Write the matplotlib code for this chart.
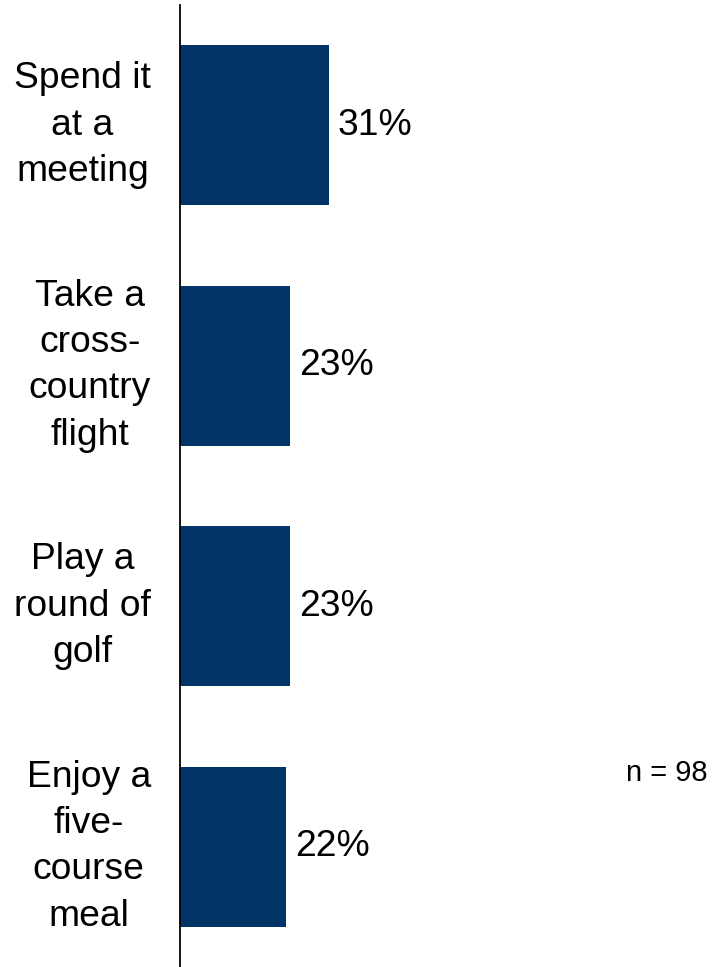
import matplotlib
matplotlib.use("Agg")
import matplotlib.pyplot as plt

plt.rcParams["font.family"] = ["Liberation Sans", "DejaVu Sans"]

categories = [
    "Spend it\nat a\nmeeting",
    "Take a\ncross-\ncountry\nflight",
    "Play a\nround of\ngolf",
    "Enjoy a\nfive-\ncourse\nmeal",
]
values = [31, 23, 23, 22]
sample_note = "n = 98"

W, H = 712, 967
fig = plt.figure(figsize=(W / 100, H / 100), dpi=100)
ax = fig.add_axes([180 / W, 0.0, 1 - 180 / W, 962 / H])

positions = list(range(len(categories)))
bars = ax.barh(positions, values, height=0.665, color="#003366", edgecolor="none")

ax.set_xlim(0, (W - 180) / 4.8)
ax.set_ylim(len(categories) - 0.5, -0.5)

for bar, v in zip(bars, values):
    ax.annotate(f"{v}%", xy=(bar.get_width(), bar.get_y() + bar.get_height() / 2),
                xytext=(6.5, 0), textcoords="offset points",
                ha="left", va="center", fontsize=26.8, color="black")

ax.set_yticks(positions)
ax.set_yticklabels(categories, fontsize=26.8, ha="right", va="center",
                   multialignment="center", linespacing=1.42)
ax.tick_params(axis="y", length=0, pad=21)
ax.set_xticks([])

for side in ["top", "right", "bottom"]:
    ax.spines[side].set_visible(False)
ax.spines["left"].set_color("black")
ax.spines["left"].set_linewidth(1.3)

fig.text(708 / W, 1 - 773 / H, sample_note, ha="right", va="center", fontsize=21)

fig.savefig("out.png", dpi=100, facecolor="white")
